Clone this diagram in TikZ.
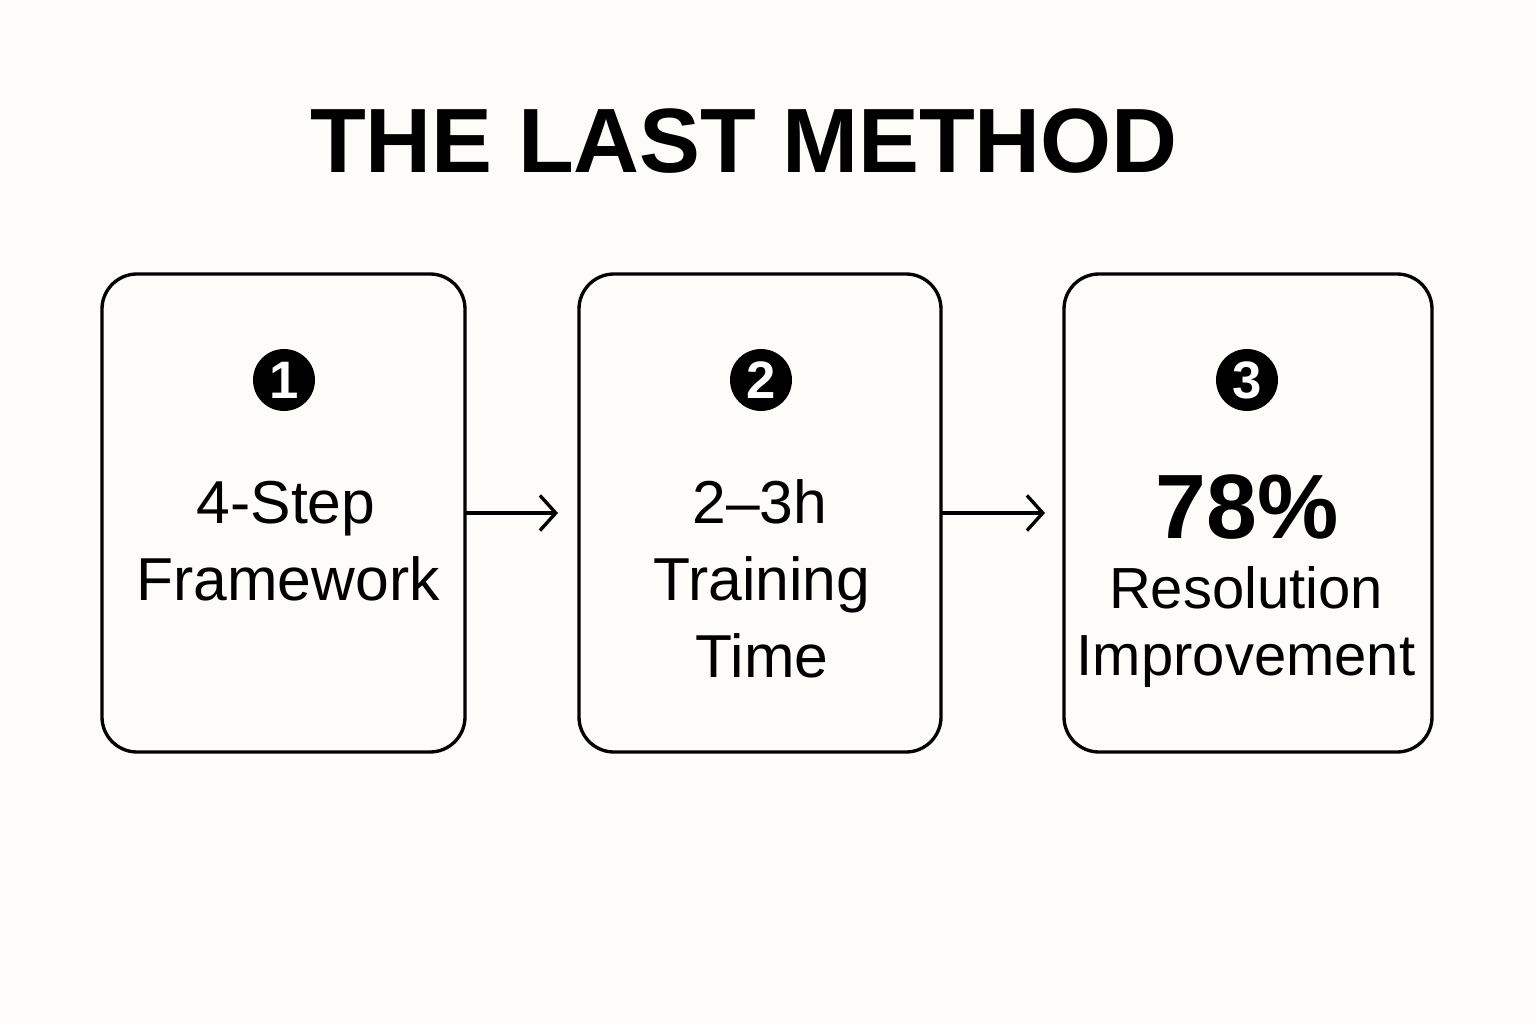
\documentclass[tikz,border=0pt]{standalone}
\usepackage{fontspec}
\setmainfont{Liberation Sans}
\usetikzlibrary{arrows.meta}
\definecolor{bg}{HTML}{FDFCF8}
\begin{document}
\begin{tikzpicture}[x=0.02cm,y=-0.02cm,
  card/.style={draw=black,line width=1.9pt,rounded corners=0.7cm,fill=bg},
  badge/.style={circle,fill=black,minimum size=1.24cm,inner sep=0pt,text=white,font=\fontsize{30}{30}\selectfont\bfseries},
  body/.style={anchor=base,inner sep=0pt,font=\fontsize{34.5}{38}\selectfont},
  conn/.style={line width=1.9pt,-{Straight Barb[length=9pt,width=20pt,line width=1.9pt]}}]
\fill[bg] (0,0) rectangle (1536,1024);
\useasboundingbox (0,0) rectangle (1536,1024);
\node[anchor=base,inner sep=0pt,font=\fontsize{52}{60}\selectfont\bfseries] (title) at (744,173) {THE LAST METHOD};
\draw[card] (102,274) rectangle (465,752);
\draw[card] (579,274) rectangle (941,752);
\draw[card] (1064,274) rectangle (1432,752);
\coordinate (e1) at (465,513); \coordinate (e2) at (941,513);
\coordinate (t1) at (558,513); \coordinate (t2) at (1045,513);
\node[badge] (n1) at (284,380) {1};
\node[badge] (n2) at (761,380) {2};
\node[badge] (n3) at (1247,380) {3};
\node[body] (a1) at (286,523) {4-Step};
\node[body] (a2) at (288,600) {Framework};
\node[body] (b1) at (760,523) {2–3h};
\node[body] (b2) at (762,600) {Training};
\node[body] (b3) at (762,677) {Time};
\node[anchor=base,inner sep=0pt,font=\fontsize{52}{56}\selectfont\bfseries] (d1) at (1247,538) {78\%};
\node[body,font=\fontsize{33}{36}\selectfont] (d2) at (1246,608) {Resolution};
\node[body,font=\fontsize{33}{36}\selectfont] (d3) at (1246,675) {Improvement};
\draw[conn] (e1) -- (t1);
\draw[conn] (e2) -- (t2);
\end{tikzpicture}
\end{document}
